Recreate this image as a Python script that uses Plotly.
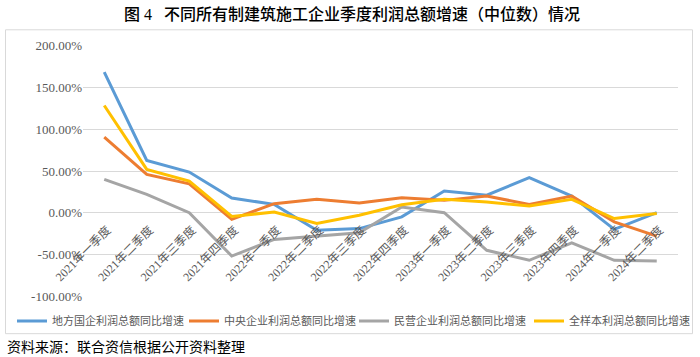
import plotly.graph_objects as go

categories = ["2021年一季度", "2021年二季度", "2021年三季度", "2021年四季度",
              "2022年一季度", "2022年二季度", "2022年三季度", "2022年四季度",
              "2023年一季度", "2023年二季度", "2023年三季度", "2023年四季度",
              "2024年一季度", "2024年二季度"]

local_soe = [168.4, 62.6, 48.7, 17.6, 10.0, -21.0, -19.0, -5.0, 26.0, 21.0, 42.0, 20.0, -20.0, 0.0]
central = [90.6, 45.9, 34.7, -8.0, 10.8, 16.0, 11.6, 18.0, 14.8, 20.0, 10.0, 20.0, -11.0, -28.0]
private = [39.9, 22.0, 0.0, -51.9, -32.0, -28.0, -24.0, 6.8, 0.0, -45.0, -57.0, -36.0, -57.0, -58.0]
overall = [128.5, 51.9, 37.9, -4.4, 0.8, -13.0, -3.0, 9.6, 16.0, 12.8, 8.0, 16.0, -7.0, -1.0]

series_names = ["地方国企利润总额同比增速", "中央企业利润总额同比增速",
                "民营企业利润总额同比增速", "全样本利润总额同比增速"]
series_values = [local_soe, central, private, overall]
series_colors = ["#5b9bd5", "#ed7d31", "#a5a5a5", "#ffc000"]

y_ticks = [-100, -50, 0, 50, 100, 150, 200]
y_tick_labels = ["-100.00%", "-50.00%", "0.00%", "50.00%", "100.00%", "150.00%", "200.00%"]

W, H = 700, 357
ML, MR = 83, 22
MT, MB = 44.7, 60.2
YMIN, YMAX = -101, 201
plot_w = W - ML - MR
plot_h = H - MT - MB

def px_to_paper_x(px):
    return (px - ML) / plot_w

def px_to_paper_y(py):
    return (H - MB - py) / plot_h

legend_ids = ["legend", "legend2", "legend3", "legend4"]
legend_x_px = [12, 184, 354, 529]

fig = go.Figure()
for name, vals, col, lid in zip(series_names, series_values, series_colors, legend_ids):
    fig.add_trace(go.Scatter(x=categories, y=vals, mode="lines", name=name,
                             line=dict(color=col, width=3), legend=lid))

zero_pos = (0 - YMIN) / (YMAX - YMIN)

legend_font = dict(family="Liberation Serif, Noto Sans CJK SC", size=11, color="#595959")
legend_layouts = {}
for lid, lx in zip(legend_ids, legend_x_px):
    legend_layouts[lid] = dict(orientation="h", xref="container", yref="container",
                               x=lx / W, y=1 - 321 / H, xanchor="left", yanchor="middle",
                               font=legend_font, itemwidth=30, borderwidth=0,
                               bgcolor="rgba(0,0,0,0)")

fig.update_layout(
    width=W, height=H,
    margin=dict(l=ML, r=MR, t=MT, b=MB, autoexpand=False),
    paper_bgcolor="white", plot_bgcolor="white",
    showlegend=True,
    xaxis=dict(type="category", range=[-0.5, len(categories) - 0.5],
               anchor="free", position=zero_pos,
               showgrid=False, showline=False, zeroline=False, ticks="",
               tickangle=-45, automargin=False,
               ticklabelstandoff=7, ticklabelshift=3,
               tickfont=dict(family="Liberation Serif, Noto Sans CJK SC", size=12, color="#595959")),
    yaxis=dict(range=[YMIN, YMAX], tickvals=y_ticks, ticktext=y_tick_labels,
               showgrid=True, gridcolor="#d9d9d9", gridwidth=1,
               zeroline=False, showline=False, ticks="", automargin=False,
               tickfont=dict(family="Liberation Serif", size=13, color="#595959")),
    shapes=[dict(type="rect", xref="paper", yref="paper",
                 x0=px_to_paper_x(5.5), x1=px_to_paper_x(692.5),
                 y0=px_to_paper_y(333.5), y1=px_to_paper_y(29.5),
                 line=dict(color="#d9d9d9", width=1), fillcolor="rgba(0,0,0,0)", layer="below")],
    annotations=[
        dict(text="图 4   不同所有制建筑施工企业季度利润总额增速（中位数）情况",
             xref="paper", yref="paper", x=px_to_paper_x(352), y=px_to_paper_y(14),
             xanchor="center", yanchor="middle", showarrow=False,
             font=dict(family="Liberation Serif, Noto Sans CJK SC", size=16, color="#000000", weight=500)),
        dict(text="资料来源：联合资信根据公开资料整理",
             xref="paper", yref="paper", x=px_to_paper_x(5), y=px_to_paper_y(346),
             xanchor="left", yanchor="middle", showarrow=False,
             font=dict(family="Noto Sans CJK SC", size=14, color="#000000")),
    ],
    **legend_layouts,
)

fig.write_html("out.html", config={"displayModeBar": False},
               post_script="document.body.style.margin='0';document.body.style.padding='0';")
